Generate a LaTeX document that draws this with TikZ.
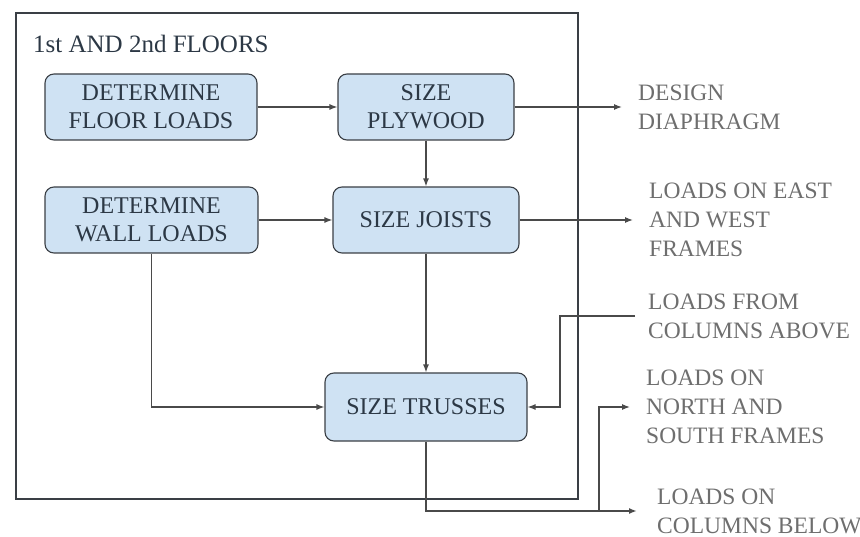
\documentclass[tikz,border=0pt]{standalone}
\usepackage{fontspec}
\setmainfont{Liberation Serif}
\usetikzlibrary{arrows.meta,positioning}

\definecolor{boxfill}{HTML}{CFE2F3}
\definecolor{boxline}{HTML}{3A3F45}
\definecolor{boxtext}{HTML}{2C3845}
\definecolor{outtext}{HTML}{6E6E6E}
\definecolor{wire}{HTML}{4A4A4A}

\begin{document}
\begin{tikzpicture}[x=1pt,y=-1pt,
  stepbox/.style={draw=boxline, fill=boxfill, rounded corners=9pt, line width=1.1pt,
    text=boxtext, align=center, inner sep=0pt,
    font=\fontsize{24}{28}\selectfont, minimum height=66pt},
  outlabel/.style={anchor=west, align=left, text=outtext, inner xsep=16pt, inner ysep=0pt,
    font=\fontsize{23.5}{29}\selectfont},
  arr/.style={draw=wire, line width=1.2pt, -{Latex[length=8pt,width=6pt]}},
  wireline/.style={draw=wire, line width=1.2pt}]

\useasboundingbox (0,0) rectangle (860,537);

% enclosing frame for the floor design steps
\draw[draw=boxline, line width=1.2pt] (16,13) rectangle (578,499);
\node[anchor=base west, inner sep=0pt, text=boxtext, font=\fontsize{25}{29}\selectfont]
  (title) at (33,53) {1st AND 2nd FLOORS};

% process steps
\node[stepbox, minimum width=212pt] (floor)   at (151,107) {DETERMINE\\FLOOR LOADS};
\node[stepbox, minimum width=176pt] (plywood) at (426,107) {SIZE\\PLYWOOD};
\node[stepbox, minimum width=213pt] (wall)    at (151.5,220) {DETERMINE\\WALL LOADS};
\node[stepbox, minimum width=186pt] (joists)  at (426,220) {SIZE JOISTS};
\node[stepbox, minimum width=202pt, minimum height=68pt] (trusses) at (426,407) {SIZE TRUSSES};

% outputs and inputs outside the frame
\node[outlabel] (design) at (622,107) {DESIGN\\DIAPHRAGM};
\node[outlabel] (eastwest) at (633,220) {LOADS ON EAST\\AND WEST\\FRAMES};
\node[outlabel, inner xsep=13pt] (above) at (635,316) {LOADS FROM\\COLUMNS ABOVE};
\node[outlabel] (northsouth) at (630,407) {LOADS ON\\NORTH AND\\SOUTH FRAMES};
\node[outlabel, inner xsep=20pt] (below) at (637,511) {LOADS ON\\COLUMNS BELOW};

\coordinate (jog) at (560,407);
\coordinate (split) at (599,511);

% connectors
\draw[arr] (floor) -- (plywood);
\draw[arr] (wall) -- (joists);
\draw[arr] (plywood.south) -- (joists.north);
\draw[arr] (joists.south) -- (trusses.north);
\draw[arr] (wall.south) |- (trusses.west);
\draw[arr] (plywood.east) -- (design.west);
\draw[arr] (joists.east) -- (eastwest.west);
\draw[arr] (above.west) -| (jog) -- (trusses.east);
\draw[arr, line width=1.6pt] (trusses.south) |- (below.west);
\draw[arr] (split) |- (northsouth.west);

\end{tikzpicture}
\end{document}
